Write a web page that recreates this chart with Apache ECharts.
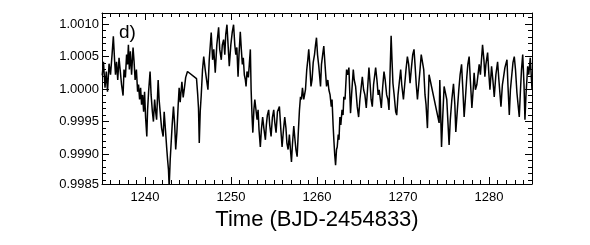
<!DOCTYPE html>
<html>
<head>
<meta charset="utf-8">
<script src="https://cdn.jsdelivr.net/npm/echarts@6/dist/echarts.min.js"></script>
<style>
html,body{margin:0;padding:0;background:#fff;}
#chart{width:590px;height:245px;}
</style>
</head>
<body>
<div id="chart"></div>
<script>
// Light curve: [time (BJD-2454833), relative flux]
const lightCurve = [
[1235.03,1.00021],[1235.17,1.00042],[1235.35,1.00002],[1235.50,1.00027],[1235.64,0.99996],
[1235.82,1.00039],[1235.99,1.00022],[1236.17,1.00053],[1236.32,1.00081],[1236.46,1.00045],
[1236.57,1.00022],[1236.69,1.00042],[1236.83,1.00014],[1236.98,1.00048],[1237.13,1.00027],
[1237.27,1.00007],[1237.45,0.99990],[1237.56,1.00030],[1237.72,1.00018],[1237.86,1.00053],
[1237.97,1.00038],[1238.07,1.00068],[1238.18,1.00030],[1238.30,1.00058],[1238.44,1.00022],
[1238.61,1.00064],[1238.73,1.00042],[1238.85,1.00014],[1239.00,1.00030],[1239.14,0.99996],
[1239.25,1.00007],[1239.37,0.99984],[1239.49,1.00002],[1239.60,0.99976],[1239.72,0.99991],
[1239.84,0.99965],[1239.95,0.99996],[1240.07,0.99956],[1240.21,0.99927],[1240.30,0.99968],
[1240.42,0.99996],[1240.59,1.00027],[1240.71,0.99991],[1240.86,0.99965],[1240.98,0.99950],
[1241.12,0.99984],[1241.24,0.99965],[1241.35,0.99953],[1241.53,1.00014],[1241.64,0.99984],
[1241.82,0.99956],[1241.93,0.99940],[1242.11,0.99927],[1242.23,0.99965],[1242.38,0.99937],
[1242.52,0.99910],[1242.63,0.99891],[1242.73,0.99876],[1242.81,0.99850],[1242.93,0.99891],
[1243.04,0.99917],[1243.16,0.99945],[1243.31,0.99973],[1243.45,0.99945],[1243.57,0.99907],
[1243.71,0.99934],[1243.86,0.99976],[1243.97,1.00002],[1244.09,0.99980],[1244.29,1.00011],
[1244.44,0.99987],[1244.56,0.99999],[1244.73,1.00018],[1244.94,1.00027],[1245.99,1.00016],
[1246.13,0.99991],[1246.22,0.99971],[1246.31,0.99917],[1246.42,0.99965],[1246.54,0.99991],
[1246.69,1.00030],[1246.83,1.00050],[1247.00,1.00030],[1247.16,1.00014],[1247.32,0.99999],
[1247.47,1.00045],[1247.70,1.00087],[1247.86,1.00045],[1248.00,1.00061],[1248.17,1.00025],
[1248.35,1.00068],[1248.56,1.00095],[1248.69,1.00061],[1248.87,1.00045],[1248.99,1.00068],
[1249.14,1.00076],[1249.28,1.00053],[1249.39,1.00084],[1249.53,1.00099],[1249.69,1.00061],
[1249.80,1.00035],[1249.98,1.00068],[1250.15,1.00088],[1250.30,1.00099],[1250.44,1.00068],
[1250.56,1.00053],[1250.68,1.00064],[1250.82,1.00019],[1250.93,1.00053],[1251.08,1.00088],
[1251.20,1.00061],[1251.32,1.00038],[1251.43,1.00048],[1251.55,1.00022],[1251.67,1.00014],
[1251.75,1.00004],[1251.86,1.00027],[1252.02,1.00018],[1252.13,1.00038],[1252.25,1.00061],
[1252.34,0.99999],[1252.45,0.99957],[1252.54,0.99933],[1252.66,0.99968],[1252.77,0.99984],
[1252.91,0.99987],[1253.03,0.99953],[1253.15,0.99968],[1253.26,0.99937],[1253.41,0.99911],
[1253.53,0.99937],[1253.68,0.99957],[1253.82,0.99940],[1254.00,0.99922],[1254.11,0.99945],
[1254.23,0.99960],[1254.38,0.99968],[1254.50,0.99945],[1254.66,0.99927],[1254.81,0.99956],
[1254.97,0.99968],[1255.08,0.99950],[1255.24,0.99933],[1255.40,0.99965],[1255.63,0.99973],
[1255.80,0.99937],[1255.94,0.99911],[1256.10,0.99937],[1256.25,0.99957],[1256.39,0.99940],
[1256.50,0.99917],[1256.64,0.99907],[1256.79,0.99930],[1256.91,0.99907],[1257.03,0.99888],
[1257.14,0.99914],[1257.30,0.99943],[1257.44,0.99922],[1257.55,0.99907],[1257.69,0.99896],
[1257.84,0.99937],[1257.96,0.99968],[1258.08,0.99988],[1258.19,0.99984],[1258.31,1.00002],
[1258.46,0.99984],[1258.66,0.99999],[1258.81,1.00030],[1258.93,1.00045],[1259.04,1.00061],
[1259.16,1.00038],[1259.30,1.00004],[1259.42,1.00014],[1259.56,1.00041],[1259.71,1.00053],
[1259.83,1.00068],[1259.94,1.00079],[1260.06,1.00053],[1260.21,1.00035],[1260.32,1.00018],
[1260.41,1.00004],[1260.52,1.00038],[1260.66,1.00053],[1260.79,1.00066],[1260.93,1.00038],
[1261.11,1.00004],[1261.26,1.00014],[1261.38,0.99999],[1261.52,0.99991],[1261.66,0.99973],
[1261.75,0.99984],[1261.87,0.99945],[1261.96,0.99922],[1262.06,0.99899],[1262.16,0.99883],
[1262.27,0.99907],[1262.35,0.99911],[1262.47,0.99930],[1262.56,0.99922],[1262.66,0.99957],
[1262.77,0.99945],[1262.91,0.99968],[1263.03,0.99960],[1263.12,0.99988],[1263.26,0.99984],
[1263.44,1.00030],[1263.55,1.00022],[1263.71,1.00033],[1263.79,1.00002],[1263.90,0.99963],
[1264.02,0.99991],[1264.22,1.00030],[1264.33,1.00014],[1264.49,1.00004],[1264.68,0.99973],
[1264.84,0.99957],[1264.99,0.99984],[1265.13,1.00002],[1265.27,1.00019],[1265.42,0.99999],
[1265.57,0.99991],[1265.73,0.99971],[1265.89,1.00002],[1266.04,1.00033],[1266.18,1.00007],
[1266.29,0.99984],[1266.43,0.99973],[1266.58,1.00007],[1266.82,1.00033],[1266.97,1.00014],
[1267.11,0.99991],[1267.23,0.99999],[1267.48,0.99971],[1267.63,1.00002],[1267.79,1.00027],
[1267.93,1.00014],[1268.10,0.99991],[1268.25,0.99984],[1268.37,0.99968],[1268.49,1.00022],
[1268.62,1.00082],[1268.72,1.00045],[1268.83,1.00009],[1268.97,0.99991],[1269.15,0.99965],
[1269.27,0.99960],[1269.42,0.99991],[1269.56,1.00009],[1269.73,1.00030],[1269.85,1.00007],
[1270.05,0.99984],[1270.20,1.00007],[1270.35,1.00030],[1270.51,1.00050],[1270.66,1.00038],
[1270.82,1.00009],[1270.96,1.00030],[1271.13,1.00053],[1271.28,1.00061],[1271.42,1.00033],
[1271.54,1.00007],[1271.68,0.99984],[1271.83,1.00007],[1271.98,1.00030],[1272.12,1.00053],
[1272.26,1.00056],[1272.41,1.00030],[1272.56,0.99991],[1272.68,0.99976],[1272.84,0.99940],
[1272.94,0.99984],[1273.03,1.00022],[1274.20,0.99948],[1274.28,1.00014],[1274.48,0.99911],
[1274.63,0.99960],[1274.78,1.00004],[1274.92,1.00007],[1275.09,0.99984],[1275.21,0.99953],
[1275.36,0.99914],[1275.50,0.99953],[1275.68,0.99984],[1275.87,1.00008],[1276.03,0.99976],
[1276.14,0.99934],[1276.32,0.99968],[1276.49,0.99999],[1276.64,1.00022],[1276.81,1.00038],
[1276.96,0.99999],[1277.11,0.99957],[1277.25,0.99984],[1277.42,1.00019],[1277.54,1.00038],
[1277.69,1.00050],[1277.83,1.00014],[1278.01,0.99971],[1278.16,0.99999],[1278.27,1.00025],
[1278.42,0.99999],[1278.59,1.00007],[1278.86,1.00038],[1279.00,1.00022],[1279.25,1.00068],
[1279.41,1.00045],[1279.52,1.00019],[1279.64,1.00038],[1279.84,1.00056],[1279.99,1.00022],
[1280.11,0.99999],[1280.30,1.00035],[1280.45,1.00014],[1280.61,0.99988],[1280.80,1.00022],
[1281.00,1.00042],[1281.15,1.00014],[1281.39,0.99973],[1281.56,1.00007],[1281.70,1.00019],
[1281.85,1.00033],[1282.09,1.00045],[1282.20,1.00007],[1282.36,0.99960],[1282.49,0.99999],
[1282.63,1.00019],[1282.79,1.00041],[1282.94,1.00050],[1283.08,1.00030],[1283.25,0.99994],
[1283.52,0.99957],[1283.66,0.99999],[1283.78,1.00030],[1283.92,1.00053],[1284.07,1.00007],
[1284.18,0.99953],[1284.30,0.99991],[1284.50,1.00035],[1284.62,1.00022],[1284.80,1.00048],
[1284.94,1.00014],[1285.00,0.99999]
];

const xRange = [1235, 1285];
const yRange = [0.99854, 1.00117];
const xMajorTicks = [1240, 1250, 1260, 1270, 1280];
const xMinorTicks = [1236,1237,1238,1239,1241,1242,1243,1244,1245,1246,1247,1248,1249,
  1251,1252,1253,1254,1255,1256,1257,1258,1259,1261,1262,1263,1264,1265,1266,1267,1268,1269,
  1271,1272,1273,1274,1275,1276,1277,1278,1279,1281,1282,1283,1284];
const yLabelValues = [0.99854, 0.9990, 0.9995, 1.0000, 1.0005, 1.0010];
const yMajorTicks = [0.9990, 0.9995, 1.0000, 1.0005, 1.0010];
const yMinorTicks = [0.9986,0.9987,0.9988,0.9989,0.9991,0.9992,0.9993,0.9994,
  0.9996,0.9997,0.9998,0.9999,1.0001,1.0002,1.0003,1.0004,1.0006,1.0007,1.0008,1.0009,1.0011];
const xTitle = 'Time (BJD-2454833)';
const panelLabel = 'd)';

const FONT = 'Liberation Sans, Arial, Helvetica, sans-serif';
const black = '#000';
const gridRect = {left: 102, top: 13, width: 430, height: 171};

function xAx(grid, pos, major, opts) {
  return Object.assign({
    type: 'value', gridIndex: grid, position: pos,
    min: xRange[0], max: xRange[1],
    axisLine: {show: major, onZero: false, lineStyle: {color: black, width: 1}},
    axisTick: {show: true, inside: true, length: major ? 7 : 4,
      customValues: major ? xMajorTicks : xMinorTicks,
      lineStyle: {color: black, width: 1}},
    axisLabel: {show: false},
    splitLine: {show: false}
  }, opts || {});
}
function yAx(grid, pos, major, opts) {
  return Object.assign({
    type: 'value', gridIndex: grid, position: pos,
    min: yRange[0], max: yRange[1],
    axisLine: {show: major, onZero: false, lineStyle: {color: black, width: 1}},
    axisTick: {show: true, inside: true, length: major ? 7 : 4,
      customValues: major ? yMajorTicks : yMinorTicks,
      lineStyle: {color: black, width: 1}},
    axisLabel: {show: false},
    splitLine: {show: false}
  }, opts || {});
}

const chart = echarts.init(document.getElementById('chart'), null, {renderer: 'canvas'});
chart.setOption({
  animation: false,
  backgroundColor: '#fff',
  grid: [Object.assign({}, gridRect), Object.assign({}, gridRect)],
  xAxis: [
    xAx(0, 'bottom', true, {
      axisLabel: {show: true, customValues: xMajorTicks, color: black,
        fontFamily: FONT, fontSize: 13, margin: 7,
        formatter: function (v) { return String(Math.round(v)); }},
      name: xTitle, nameLocation: 'middle', nameGap: 25,
      nameTextStyle: {color: black, fontFamily: FONT, fontSize: 22}
    }),
    xAx(0, 'top', true),
    xAx(1, 'bottom', false),
    xAx(1, 'top', false)
  ],
  yAxis: [
    yAx(0, 'left', true, {
      axisLabel: {show: true, customValues: yLabelValues, color: black,
        fontFamily: FONT, fontSize: 13, margin: 3,
        formatter: function (v) { return v.toFixed(4); }}
    }),
    yAx(0, 'right', true),
    yAx(1, 'left', false),
    yAx(1, 'right', false)
  ],
  graphic: [{
    type: 'text', left: 119, top: 23,
    style: {text: panelLabel, fill: black, font: '19px ' + FONT}
  }],
  series: [{
    type: 'line', xAxisIndex: 0, yAxisIndex: 0,
    data: lightCurve, showSymbol: false, symbol: 'none',
    clip: true,
    lineStyle: {color: black, width: 1.5},
    emphasis: {disabled: true}
  }]
});
</script>
</body>
</html>
